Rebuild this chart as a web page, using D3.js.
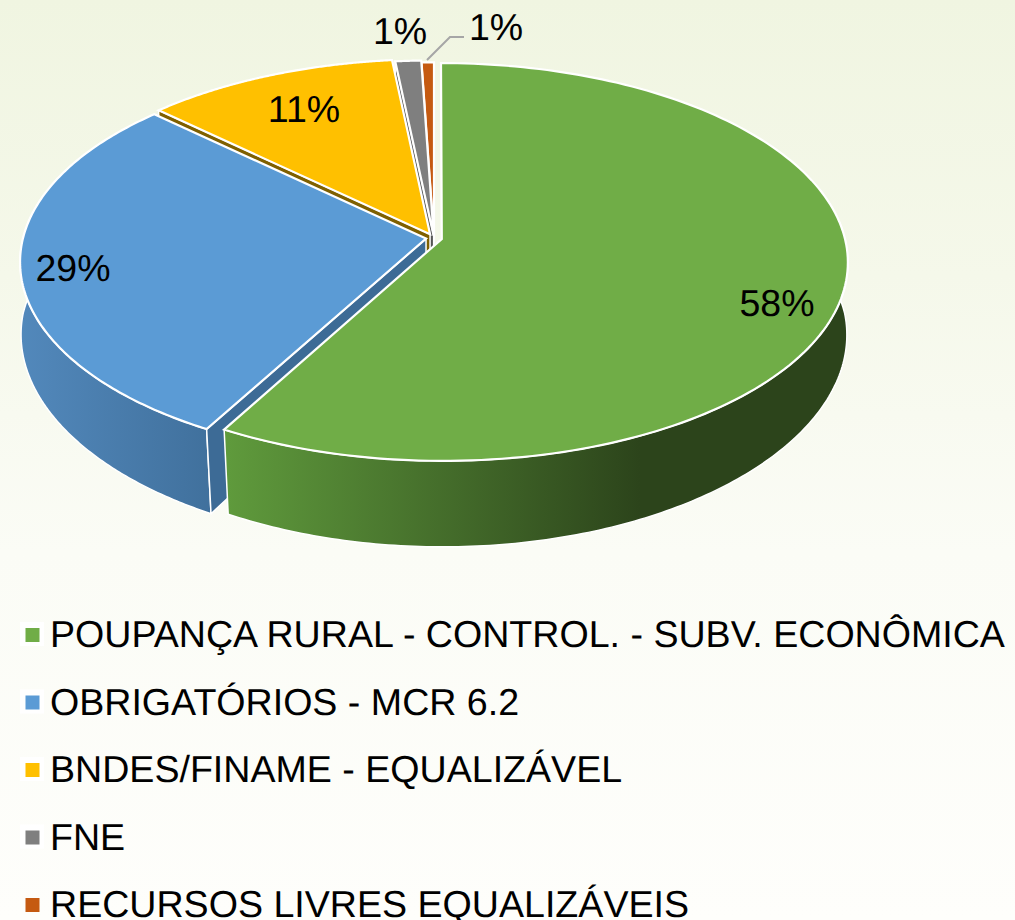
<!DOCTYPE html>
<html><head><meta charset="utf-8">
<script src="https://cdnjs.cloudflare.com/ajax/libs/d3/7.9.0/d3.min.js"></script>
<style>html,body{margin:0;padding:0;background:#fff}svg{display:block}text{font-family:"Liberation Sans",Arial,sans-serif;fill:#000;text-rendering:geometricPrecision}</style>
</head><body><div id="c"></div>
<script>
const categories = ["POUPANÇA RURAL - CONTROL. - SUBV. ECONÔMICA","OBRIGATÓRIOS - MCR 6.2","BNDES/FINAME - EQUALIZÁVEL","FNE","RECURSOS LIVRES EQUALIZÁVEIS"];
const values = [58.1,28.9,11.3,1.15,0.55];
const colors = ["#70ad47","#5b9bd5","#ffc000","#7f7f7f","#c55a11"];
const wallColors = [["#5f9a3c","#2c441b"],["#5288bb","#40709c"],["#7f6000","#7f6000"],["#555","#555"],["#843c0c","#843c0c"]];
const cutColors = ["#3f6527","#3d6b96","#7f6000","#555555","#843c0c"];
const explode = [0.02,0.02,0.022,0.012,0.0];
const labelPos = [[777,316],[73,281],[304,122],[400,44],[496,40]];

const W=1015,H=920,cx=434,cy=238,rx=403,ry=196,k=0.1156,depth=76;
const svg=d3.select("#c").append("svg").attr("width",W).attr("height",H);
const defs=svg.append("defs");
const bg=defs.append("linearGradient").attr("id","bg").attr("x1",0).attr("x2",0).attr("y1",0).attr("y2",1);
[[0,"#f0f5e1"],[0.3,"#f5f8ea"],[0.6,"#fbfcf6"],[1,"#fefefb"]].forEach(s=>bg.append("stop").attr("offset",s[0]).attr("stop-color",s[1]));
svg.append("rect").attr("width",W).attr("height",H).attr("fill","url(#bg)");

const wallRange=[[228,640],[22,215]];
wallRange.forEach((r,i)=>{
  const g=defs.append("linearGradient").attr("id","wall"+i).attr("gradientUnits","userSpaceOnUse")
    .attr("x1",r[0]).attr("x2",r[1]).attr("y1",0).attr("y2",0);
  g.append("stop").attr("offset",0).attr("stop-color",wallColors[i][0]);
  g.append("stop").attr("offset",1).attr("stop-color",wallColors[i][1]);
});

const arcs=d3.pie().sort(null)(values);
function project(X,Y,low){
  const s=1/(1-k*Y);
  let x=rx*X*s, y=ry*Y*s;
  if(low){x*=1-0.022*Math.max(0,Y);y+=depth*s;}
  return [cx+x,cy+y];
}
function pt(a,r,d,low){
  const mid=(d.startAngle+d.endAngle)/2, e=explode[d.index];
  return project(r*Math.sin(a)+e*Math.sin(mid),-r*Math.cos(a)-e*Math.cos(mid),low);
}
const line=d3.line();
const sample=(a0,a1,n=160)=>d3.range(n+1).map(i=>a0+(a1-a0)*i/n);
const rad=d=>d*Math.PI/180;

function drawCut(d,a){
  const pts=[pt(a,0,d,false),pt(a,1,d,false),pt(a,1,d,true),pt(a,0,d,true)];
  svg.append("path").attr("d",line(pts)+"Z").attr("fill",cutColors[d.index]).attr("stroke","#fff").attr("stroke-width",1.5).attr("stroke-linejoin","round");
}
function drawWall(d){
  const a0=Math.max(d.startAngle,rad(78)),a1=Math.min(d.endAngle,rad(282));
  if(a1<=a0) return;
  const s=sample(a0,a1);
  const pts=s.map(a=>pt(a,1,d,false)).concat(s.slice().reverse().map(a=>pt(a,1,d,true)));
  svg.append("path").attr("d",line(pts)+"Z").attr("fill",d.index<2?`url(#wall${d.index})`:wallColors[d.index][0]).attr("stroke","#fff").attr("stroke-width",1.5).attr("stroke-linejoin","round");
}
function drawTop(d){
  const pts=[pt(0,0,d,false)].concat(sample(d.startAngle,d.endAngle).map(a=>pt(a,1,d,false)));
  svg.append("path").attr("d",line(pts)+"Z").attr("fill",colors[d.index]).attr("stroke","#fff").attr("stroke-width",2.2).attr("stroke-linejoin","miter");
}
[arcs[4],arcs[3],arcs[2]].forEach(d=>{drawCut(d,d.startAngle);drawTop(d);});
drawWall(arcs[1]);drawCut(arcs[1],arcs[1].startAngle);drawTop(arcs[1]);
drawWall(arcs[0]);drawTop(arcs[0]);

svg.append("path").attr("d",line([[427,60],[450,37],[464,37]])).attr("fill","none").attr("stroke","#a6a6a6").attr("stroke-width",2);

const fmt=v=>d3.format(".0f")(v)+"%";
svg.selectAll("text.lab").data(values).enter().append("text").attr("class","lab")
  .attr("x",(v,i)=>labelPos[i][0]).attr("y",(v,i)=>labelPos[i][1]).attr("text-anchor","middle")
  .attr("font-size",37.5).text(fmt);

const ly=d3.scalePoint().domain(categories).range([647,917]);
categories.forEach((c,i)=>{
  const y=ly(c);
  svg.append("rect").attr("x",20).attr("y",y-25).attr("width",24).attr("height",24).attr("fill","#fff").attr("opacity",i<4?1:0);
  svg.append("rect").attr("x",25.5).attr("y",y-19).attr("width",14).attr("height",14).attr("fill",colors[i]);
  svg.append("text").attr("x",50).attr("y",y).attr("font-size",37.6).text(c);
});
</script></body></html>
